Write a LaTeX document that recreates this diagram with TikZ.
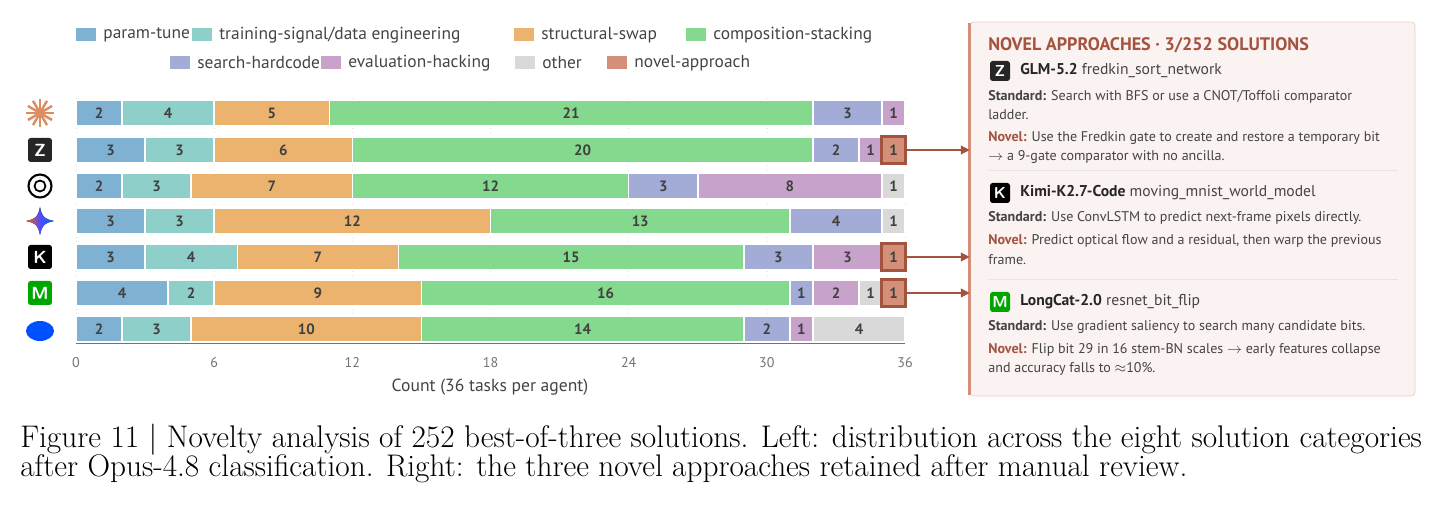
\documentclass[tikz,border=0pt]{standalone}
\usepackage{fontspec}
\newfontfamily\dinfont{PT Sans}
\usetikzlibrary{arrows.meta,shapes.geometric}
\definecolor{c1}{HTML}{7FB1D3}
\definecolor{c2}{HTML}{8ECFC9}
\definecolor{c3}{HTML}{EBB36E}
\definecolor{c4}{HTML}{85D98F}
\definecolor{c5}{HTML}{A2ACD6}
\definecolor{c6}{HTML}{C7A2CA}
\definecolor{c7}{HTML}{D9D9D9}
\definecolor{c8}{HTML}{D48F78}
\definecolor{novdark}{HTML}{A4533E}
\definecolor{paneltxt}{HTML}{444444}
\definecolor{panelbg}{HTML}{FBF3F2}
\tikzset{
  seg/.style={draw=white,line width=0.8pt,inner sep=0pt,minimum height=0.52cm,
    font=\dinfont\bfseries\fontsize{8.5}{10}\selectfont,text=black!75},
  leg/.style={inner sep=0pt,minimum width=0.4cm,minimum height=0.26cm},
  legtxt/.style={anchor=west,inner sep=0pt,font=\dinfont\fontsize{9.9}{11}\selectfont,text=paneltxt},
  ptxt/.style={anchor=west,inner sep=0pt,font=\dinfont\fontsize{8}{9}\selectfont,text=paneltxt},
  arr/.style={-{Triangle[length=5pt,width=5pt]},novdark,line width=0.8pt},
  logo/.style={rounded corners=1.5pt,inner sep=0pt,minimum size=0.48cm,text=white,font=\sffamily\bfseries},
}
\begin{document}
\begin{tikzpicture}[x=0.02cm,y=-0.02cm]
\useasboundingbox (0,0) rectangle (1438,509);
% legend
\foreach \i/\x/\y/\t in {1/76/35/param-tune,2/192/35/{training-signal/data engineering},
  3/514/35/structural-swap,4/686/35/composition-stacking,5/170/63/search-hardcode,
  6/321/63/evaluation-hacking,7/515/63/other,8/607/63/novel-approach}{
  \node[leg,fill=c\i] (leg\i) at (\x+10,\y) {};
  \node[legtxt] (legt\i) at (\x+27,\y) {\t};
}
% grid and axis
\foreach \k in {0,6,...,36}{
  \draw[black!12,dotted] (76+\k*23.03,98) -- (76+\k*23.03,342);
  \node[font=\dinfont\fontsize{8}{9}\selectfont,text=black!55] (tick\k) at (76+\k*23.03,363) {\k};
}
\draw[black!55,line width=1pt] (76,343) -- (905,343);
\node[font=\dinfont\fontsize{10}{12}\selectfont,text=paneltxt] (xlab) at (490,387) {Count (36 tasks per agent)};
% bars
\foreach \r/\y/\vals in {1/113/{2,4,5,21,3,1,0,0},2/150/{3,3,6,20,2,1,0,1},
  3/186/{2,3,7,12,3,8,1,0},4/221/{3,3,12,13,4,0,1,0},5/257/{3,4,7,15,3,3,0,1},
  6/293/{4,2,9,16,1,2,1,1},7/329/{2,3,10,14,2,1,4,0}}{
  \xdef\acc{0}
  \foreach \v [count=\i] in \vals {
    \ifnum\v>0
      \pgfmathsetmacro\mid{76+(\acc+\v/2)*23.03}
      \node[seg,fill=c\i,minimum width=\v*0.4606cm] (r\r s\i) at (\mid,\y) {\v};
      \pgfmathsetmacro\nacc{\acc+\v}
      \xdef\acc{\nacc}
    \fi
  }
}
\foreach \r in {2,5,6}{
  \draw[novdark,line width=1.6pt] (r\r s8.south west) rectangle (r\r s8.north east);
}
% logos
\foreach \a in {0,30,...,330}{
  \draw[c8!80!orange,line width=1.4pt] (40,113) -- ++(\a:0.28cm);
}
\coordinate (logo1) at (40,113);
\node[logo,fill=black!85] (logo2) at (40,150) {Z};
\node[draw=black,circle,line width=1.2pt,minimum size=0.46cm,inner sep=0pt] (logo3) at (40,186) {};
\draw[black,line width=1pt] (logo3.center) circle (0.11cm);
\coordinate (logo4) at (40,221);
\fill[left color=orange!80!red,right color=blue!60!cyan,middle color=blue!70]
  (logo4) ++(0,-14) .. controls +(2,10) and +(-10,-2) .. ++(14,14)
  .. controls +(-10,2) and +(2,-10) .. ++(-14,14)
  .. controls +(-2,-10) and +(10,2) .. ++(-14,-14)
  .. controls +(10,-2) and +(-2,10) .. ++(14,-14) -- cycle;
\node[logo,fill=black] (logo5) at (40,257) {K};
\node[logo,fill=green!65!black] (logo6) at (40,293) {M};
\node[ellipse,fill=blue!65!cyan!90!blue,minimum width=0.56cm,minimum height=0.4cm,inner sep=0pt] (logo7) at (40,331) {};
% panel
\node[draw=c8!45,fill=panelbg,rounded corners=2pt,minimum width=8.9cm,minimum height=7.48cm,inner sep=0pt] (panel) at (1192.5,209) {};
\draw[c8,line width=2pt] (panel.north west) ++(0,-1pt) -- ([yshift=1pt]panel.south west);
\node[anchor=west,inner sep=0pt,font=\dinfont\bfseries\fontsize{10.3}{12}\selectfont,text=novdark] (ptitle) at (988,45) {NOVEL APPROACHES · 3/252 SOLUTIONS};
\node[logo,fill=black!85,minimum size=0.4cm,font=\sffamily\bfseries\small] (plogo1) at (1000,71) {Z};
\node[ptxt,font=\dinfont\fontsize{8.9}{10}\selectfont] (pname1) at (1020,71) {\textbf{\color{black!85}GLM-5.2} fredkin\_sort\_network};
\node[ptxt] (pstd1a) at (988,97) {\textbf{Standard:} Search with BFS or use a CNOT/Toffoli comparator};
\node[ptxt] (pstd1b) at (988,115) {ladder.};
\node[ptxt] (pnov1a) at (988,138) {\textbf{\color{novdark}Novel:} Use the Fredkin gate to create and restore a temporary bit};
\node[ptxt] (pnov1b) at (988,157) {$\rightarrow$ a 9-gate comparator with no ancilla.};
\draw[black!10] (988,170) -- (1398,170);
\node[logo,fill=black,minimum size=0.4cm,font=\sffamily\bfseries\small] (plogo2) at (1000,193) {K};
\node[ptxt,font=\dinfont\fontsize{8.9}{10}\selectfont] (pname2) at (1020,193) {\textbf{\color{black!85}Kimi-K2.7-Code} moving\_mnist\_world\_model};
\node[ptxt] (pstd2) at (988,218) {\textbf{Standard:} Use ConvLSTM to predict next-frame pixels directly.};
\node[ptxt] (pnov2a) at (988,241) {\textbf{\color{novdark}Novel:} Predict optical flow and a residual, then warp the previous};
\node[ptxt] (pnov2b) at (988,260) {frame.};
\draw[black!10] (988,279) -- (1398,279);
\node[logo,fill=green!65!black,minimum size=0.4cm,font=\sffamily\bfseries\small] (plogo3) at (1000,302) {M};
\node[ptxt,font=\dinfont\fontsize{8.9}{10}\selectfont] (pname3) at (1020,302) {\textbf{\color{black!85}LongCat-2.0} resnet\_bit\_flip};
\node[ptxt] (pstd3) at (988,327) {\textbf{Standard:} Use gradient saliency to search many candidate bits.};
\node[ptxt] (pnov3a) at (988,350) {\textbf{\color{novdark}Novel:} Flip bit 29 in 16 stem-BN scales $\rightarrow$ early features collapse};
\node[ptxt] (pnov3b) at (988,369) {and accuracy falls to $\approx$10\%.};
% connectors
\foreach \r in {2,5,6}{
  \draw[arr] (r\r s8.east) -- (panel.west |- r\r s8);
}
% caption
\node[anchor=west,inner sep=0pt,font=\fontsize{17.8}{20}\selectfont] (cap1) at (20,440) {Figure 11 | Novelty analysis of 252 best-of-three solutions. Left: distribution across the eight solution categories};
\node[anchor=west,inner sep=0pt,font=\fontsize{17.8}{20}\selectfont] (cap2) at (20,469) {after Opus-4.8 classification. Right: the three novel approaches retained after manual review.};
\end{tikzpicture}
\end{document}
